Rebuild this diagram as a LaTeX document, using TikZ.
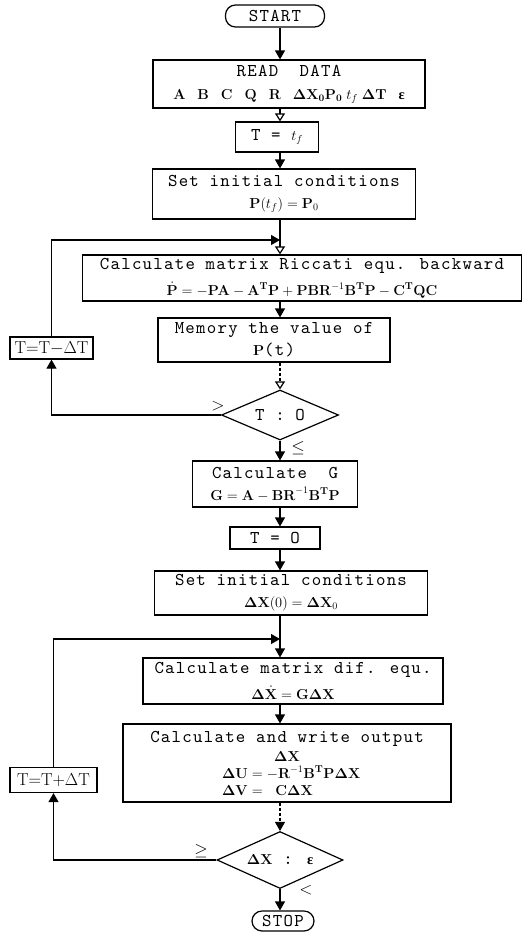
\documentclass[tikz,border=0pt]{standalone}
\usepackage{amsmath}
\usepackage[no-math]{fontspec}
\newfontfamily\monof[LetterSpace=7]{lmmono10-regular.otf}
\newfontfamily\lserif{Liberation Serif}
\usetikzlibrary{arrows.meta,shapes.geometric}
\newcommand\mt{\monof\fontsize{18}{22}\selectfont}
\newcommand\fm[1]{{\fontsize{14.4}{18}\selectfont$#1$}}
\newcommand\beps{\mbox{\lserif\bfseries ε}}
\newcommand\gp{\;\;\;}
\begin{document}
\begin{tikzpicture}[x=1pt,y=-1pt,
 box/.style={draw,line width=1.2pt,align=center,font=\mt,inner sep=0pt},
 term/.style={box,rounded corners=10pt},
 dia/.style={draw,line width=1.2pt,shape=diamond,font=\mt,inner sep=0pt,aspect=2.3},
 arr/.style={line width=1.2pt,-{Triangle[width=10pt,length=9pt]}},
 arro/.style={line width=1.2pt,-{Triangle[open,width=10pt,length=8pt]}},
 lab/.style={font=\fontsize{17.28}{17}\selectfont,inner sep=0pt}]
\useasboundingbox (0,0) rectangle (528,932);
\fill[white] (0,0) rectangle (528,932);

\node[term,minimum width=99pt,minimum height=22pt] (start) at (275,16) {START};
\node[box,minimum width=272pt,minimum height=48pt] (read) at (289,84)
  {READ~~DATA\\[1pt]\fm{\mathbf{A}\gp\mathbf{B}\gp\mathbf{C}\gp\mathbf{Q}\gp\mathbf{R}\gp\mathbf{\Delta X_0P_0}\;t_f\;\mathbf{\Delta T}\gp\beps}};
\node[box,minimum width=83pt,minimum height=30pt] (ttf) at (277,137) {T = \fm{t_f}};
\node[box,minimum width=263pt,minimum height=50pt] (set1) at (284,194)
  {Set initial conditions\\\fm{\mathbf{P}(t_f)=\mathbf{P}_0}};
\node[box,minimum width=439pt,minimum height=46pt] (ricc) at (302,278)
  {Calculate matrix Riccati equ. backward\\[4pt]\fm{\dot{\mathbf{P}}=-\mathbf{PA}-\mathbf{A}^{\mathbf{T}}\mathbf{P}+\mathbf{PBR}^{-1}\mathbf{B}^{\mathbf{T}}\mathbf{P}-\mathbf{C}^{\mathbf{T}}\mathbf{QC}}};
\node[box,minimum width=232pt,minimum height=44pt] (mem) at (274,340)
  {Memory the value of\\\fm{\mathbf{P}}(t)};
\node[box,font=\fontsize{17.28}{17}\selectfont,minimum width=83pt,minimum height=22pt] (tm) at (51.5,348)
  {$\mathrm{T{=}T{-}\Delta T}$};
\node[dia,minimum width=117pt,minimum height=50pt] (d1) at (280,415) {T : O};
\node[box,minimum width=165pt,minimum height=46pt] (calcg) at (275,484)
  {Calculate~~G\\\fm{\mathbf{G}=\mathbf{A}-\mathbf{BR}^{-1}\mathbf{B}^{\mathbf{T}}\mathbf{P}}};
\node[box,minimum width=90pt,minimum height=22pt] (t0) at (275,538) {T = O};
\node[box,minimum width=273pt,minimum height=44pt] (set2) at (291,593)
  {Set initial conditions\\\fm{\mathbf{\Delta X}(0)=\mathbf{\Delta X}_0}};
\node[box,minimum width=300pt,minimum height=46pt] (dif) at (293,681)
  {Calculate matrix dif. equ.\\[4pt]\fm{\mathbf{\Delta}\dot{\mathbf{X}}=\mathbf{G\Delta X}}};
\node[box,minimum width=328pt,minimum height=78pt] (write) at (287,763)
  {Calculate and write output\\[-3pt]
   \fm{\mathbf{\Delta X}}\hspace{34pt}\\[-5pt]
   \makebox[130pt][l]{\fm{\mathbf{\Delta U}=-\mathbf{R}^{-1}\mathbf{B}^{\mathbf{T}}\mathbf{P\Delta X}}}\hspace{54pt}\\[-5pt]
   \makebox[130pt][l]{\fm{\mathbf{\Delta V}=\ \mathbf{C\Delta X}}}\hspace{54pt}};
\node[box,font=\fontsize{17.28}{17}\selectfont,minimum width=87pt,minimum height=25pt] (tp) at (53.5,780)
  {$\mathrm{T{=}T{+}\Delta T}$};
\node[dia,minimum width=126pt,minimum height=57pt] (d2) at (280,860)
  {\fm{\mathbf{\Delta X}} : \fm{\beps}};
\node[term,minimum width=62pt,minimum height=20pt] (stop) at (283,921) {STOP};

\node[lab] (l1) at (218,406) {$>$};
\node[lab] (l2) at (298,448) {$\leq$};
\node[lab] (l3) at (201,851) {$\geq$};
\node[lab] (l4) at (306,890) {$<$};

\coordinate (ax) at (280,0);
\coordinate (m1) at (280,240);
\coordinate (m2) at (280,639);

\draw[arr] (start.south -| ax) -- (read.north -| ax);
\draw[arro] (read.south -| ax) -- (ttf.north -| ax);
\draw[arr] (ttf.south -| ax) -- (set1.north -| ax);
\draw[arro] (set1.south -| ax) -- (ricc.north -| ax);
\draw[arr] (tm.north) |- (m1);
\draw[arr] (ricc.south -| ax) -- (mem.north -| ax);
\draw[arro,densely dashed] (mem.south -| ax) -- (d1.north);
\draw[arr] (d1.south) -- (calcg.north -| ax);
\draw[arr] (d1.west) -| (tm.south);
\draw[arr] (calcg.south -| ax) -- (t0.north -| ax);
\draw[arr] (t0.south -| ax) -- (set2.north -| ax);
\draw[arr] (set2.south -| ax) -- (dif.north -| ax);
\draw[arr] (tp.north) |- (m2);
\draw[arr] (dif.south -| ax) -- (write.north -| ax);
\draw[arr,densely dashed] (write.south -| ax) -- (d2.north);
\draw[arr] (d2.west) -| (tp.south);
\draw[arr] (d2.south) -- (stop.north -| ax);
\end{tikzpicture}
\end{document}
